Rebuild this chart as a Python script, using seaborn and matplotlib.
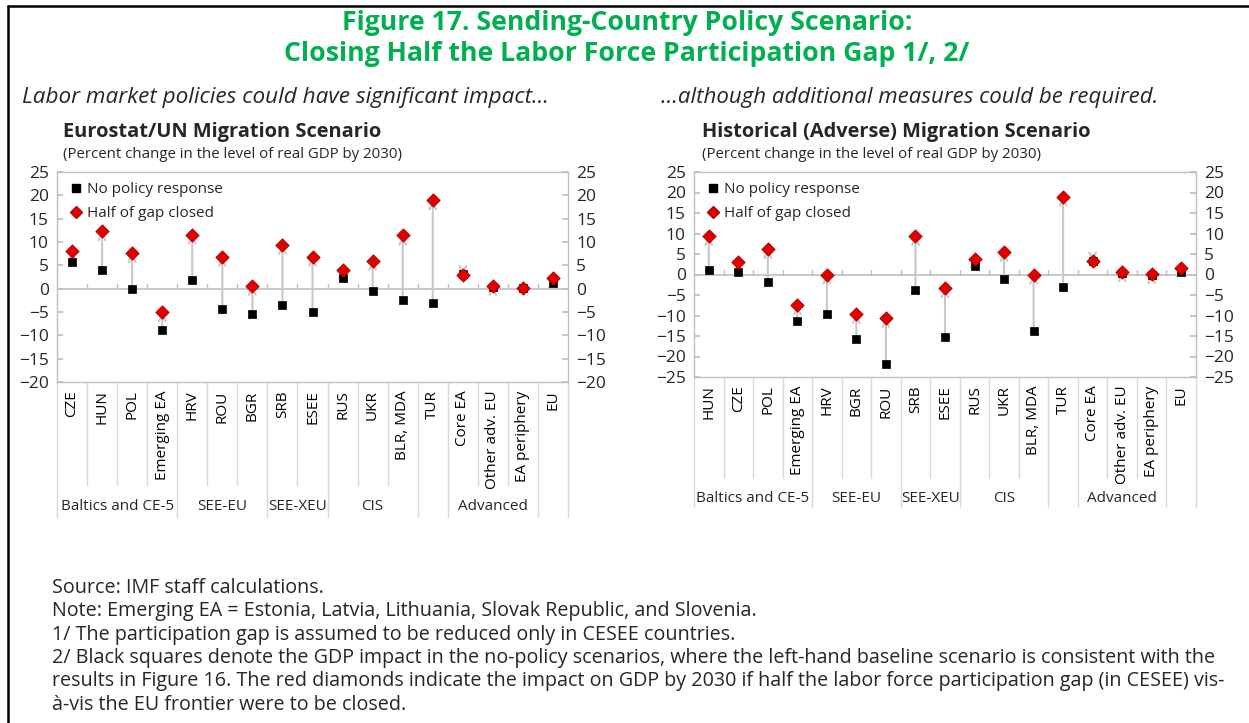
import matplotlib
matplotlib.use("Agg")
import matplotlib.pyplot as plt
import seaborn as sns
import pandas as pd
from matplotlib.lines import Line2D

# ---------------- data ----------------
left_categories = ["CZE", "HUN", "POL", "Emerging EA", "HRV", "ROU", "BGR", "SRB", "ESEE",
                   "RUS", "UKR", "BLR, MDA", "TUR", "Core EA", "Other adv. EU", "EA periphery", "EU"]
left_no_policy = [5.8, 4.0, 0.0, -8.9, 1.9, -4.4, -5.4, -3.5, -5.0,
                  2.3, -0.6, -2.4, -3.1, 3.1, 0.3, 0.1, 1.2]
left_half_gap = [8.0, 12.3, 7.6, -5.0, 11.6, 6.8, 0.6, 9.4, 6.8,
                 4.1, 6.0, 11.4, 18.9, 2.9, 0.6, 0.1, 2.3]

right_categories = ["HUN", "CZE", "POL", "Emerging EA", "HRV", "BGR", "ROU", "SRB", "ESEE",
                    "RUS", "UKR", "BLR, MDA", "TUR", "Core EA", "Other adv. EU", "EA periphery", "EU"]
right_no_policy = [1.2, 0.7, -1.8, -11.4, -9.6, -15.7, -21.9, -3.8, -15.3,
                   2.1, -1.1, -13.8, -3.0, 3.4, 0.4, 0.0, 0.7]
right_half_gap = [9.4, 3.0, 6.2, -7.5, 0.0, -9.6, -10.6, 9.4, -3.3,
                  3.9, 5.5, 0.0, 19.0, 3.2, 0.6, 0.1, 1.7]

group_names = ["Baltics and CE-5", "SEE-EU", "SEE-XEU", "CIS", "", "Advanced", ""]
group_sizes = [4, 3, 2, 3, 1, 3, 1]

left_yticks = [-20, -15, -10, -5, 0, 5, 10, 15, 20, 25]
right_yticks = [-25, -20, -15, -10, -5, 0, 5, 10, 15, 20, 25]

series_names = ["No policy response", "Half of gap closed"]

# ---------------- style ----------------
sns.set_theme(style="white")
plt.rcParams["font.family"] = ["Open Sans", "DejaVu Sans"]
plt.rcParams["axes.unicode_minus"] = True

W, H = 1249, 723
DPI = 100
fig = plt.figure(figsize=(W / DPI, H / DPI), dpi=DPI)

GREEN = "#00B050"
RED = "#E00000"
GRAY = "#BFBFBF"
ARROW = "#C8C8C8"


def px_axes(x0, x1, ytop, ybot):
    return fig.add_axes([x0 / W, 1 - ybot / H, (x1 - x0) / W, (ybot - ytop) / H])


def draw_panel(ax, cats, base, policy, yticks, short_frac, long_frac, label_frac, tick_len):
    n = len(cats)
    df = pd.DataFrame({
        "pos": list(range(n)) * 2,
        "value": list(base) + list(policy),
        "series": [series_names[0]] * n + [series_names[1]] * n,
    })
    # arrows (behind markers)
    for i in range(n):
        ax.annotate("", xy=(i, policy[i]), xytext=(i, base[i]),
                    arrowprops=dict(arrowstyle="->,head_length=0.4,head_width=0.2",
                                    color=ARROW, lw=1.5, shrinkA=0, shrinkB=0),
                    zorder=2)
    sns.scatterplot(data=df[df.series == series_names[0]], x="pos", y="value", ax=ax,
                    marker="s", s=30, color="black", edgecolor="black", linewidth=0.5,
                    zorder=3, legend=False)
    sns.scatterplot(data=df[df.series == series_names[1]], x="pos", y="value", ax=ax,
                    marker="D", s=46, color=RED, edgecolor="#B00000", linewidth=0.6,
                    zorder=4, legend=False)

    ax.set_xlim(-0.5, n - 0.5)
    ax.set_ylim(yticks[0], yticks[-1])
    ax.set_yticks(yticks)
    ax.set_yticklabels([f"{t}".replace("-", "\u2212") for t in yticks])
    ax.set_xticks(range(n))
    ax.set_xticklabels(cats, rotation=90, fontsize=11)
    ax.set_xlabel("")
    ax.set_ylabel("")
    ax.tick_params(axis="x", length=0, pad=6, colors="black")
    ax.tick_params(axis="y", direction="in", length=4, color=GRAY, left=True, right=True,
                   labelleft=True, labelright=True, labelsize=12.5, pad=6)
    for s in ax.spines.values():
        s.set_color(GRAY)
        s.set_linewidth(1.0)

    # zero line with small ticks
    ax.axhline(0, color=GRAY, lw=1.2, zorder=1)
    for b in range(1, n):
        ax.plot([b - 0.5, b - 0.5], [0, tick_len], color=GRAY, lw=1.0, zorder=1)

    # category separators below the axis
    trans = ax.get_xaxis_transform()
    group_bounds = [0]
    for g in group_sizes:
        group_bounds.append(group_bounds[-1] + g)
    for b in range(0, n + 1):
        frac = long_frac if b in group_bounds else short_frac
        ax.plot([b - 0.5, b - 0.5], [0, -frac], color="#D9D9D9", lw=1.0,
                transform=trans, clip_on=False)
    for k, name in enumerate(group_names):
        if name:
            c = (group_bounds[k] + group_bounds[k + 1] - 1) / 2
            ax.text(c, -label_frac, name, transform=trans, ha="center", va="center",
                    fontsize=11)

    handles = [Line2D([], [], marker="s", ls="", color="black", markersize=5.5),
               Line2D([], [], marker="D", ls="", color=RED, markeredgecolor="#B00000",
                      markersize=6)]
    ax.legend(handles, series_names, loc="upper left", bbox_to_anchor=(0.008, 0.995),
              frameon=False, fontsize=11, handlelength=0.8, handletextpad=0.3,
              labelspacing=0.6, borderaxespad=0.2)


# left panel: x 57-568, y 172-382
axL = px_axes(57, 568, 172, 382)
draw_panel(axL, left_categories, left_no_policy, left_half_gap, left_yticks,
           short_frac=(485 - 382) / 210, long_frac=(517 - 382) / 210,
           label_frac=(506 - 382) / 210, tick_len=1.1)

# right panel: x 694-1196, y 172-377
axR = px_axes(694, 1196, 172, 377)
draw_panel(axR, right_categories, right_no_policy, right_half_gap, right_yticks,
           short_frac=(478 - 377) / 205, long_frac=(507 - 377) / 205,
           label_frac=(498 - 377) / 205, tick_len=1.2)


def ftext(x, y, s, **kw):
    fig.text(x / W, 1 - y / H, s, **kw)


# titles
ftext(627, 23, "Figure 17. Sending-Country Policy Scenario:", ha="center", va="center",
      fontsize=19.2, fontweight="bold", color=GREEN)
ftext(627, 54, "Closing Half the Labor Force Participation Gap 1/, 2/", ha="center",
      va="center", fontsize=19.2, fontweight="bold", color=GREEN)
ftext(22, 97, "Labor market policies could have significant impact...", ha="left",
      va="center", fontsize=16.2, style="italic")
ftext(661, 97, "...although additional measures could be required.", ha="left",
      va="center", fontsize=16.0, style="italic")

ftext(63, 132, "Eurostat/UN Migration Scenario", ha="left", va="center",
      fontsize=14.4, fontweight="bold")
ftext(63, 154, "(Percent change in the level of real GDP by 2030)", ha="left", va="center",
      fontsize=10.8)
ftext(702, 132, "Historical (Adverse) Migration Scenario", ha="left", va="center",
      fontsize=14.4, fontweight="bold")
ftext(702, 154, "(Percent change in the level of real GDP by 2030)", ha="left", va="center",
      fontsize=10.8)

notes = [
    "Source: IMF staff calculations.",
    "Note: Emerging EA = Estonia, Latvia, Lithuania, Slovak Republic, and Slovenia.",
    "1/ The participation gap is assumed to be reduced only in CESEE countries.",
    "2/ Black squares denote the GDP impact in the no-policy scenarios, where the left-hand baseline scenario is consistent with the",
    "results in Figure 16. The red diamonds indicate the impact on GDP by 2030 if half the labor force participation gap (in CESEE) vis-",
    "\u00e0-vis the EU frontier were to be closed.",
]
for k, line in enumerate(notes):
    ftext(52, 588 + 23.3 * k, line, ha="left", va="center", fontsize=14.2)

# frame (left and top only)
fig.add_artist(Line2D([8 / W, 8 / W], [0, 1 - 6 / H], transform=fig.transFigure,
                      color="black", lw=1.8))
fig.add_artist(Line2D([8 / W, 1], [1 - 6 / H, 1 - 6 / H], transform=fig.transFigure,
                      color="black", lw=1.8))

fig.savefig("out.png", dpi=DPI)
